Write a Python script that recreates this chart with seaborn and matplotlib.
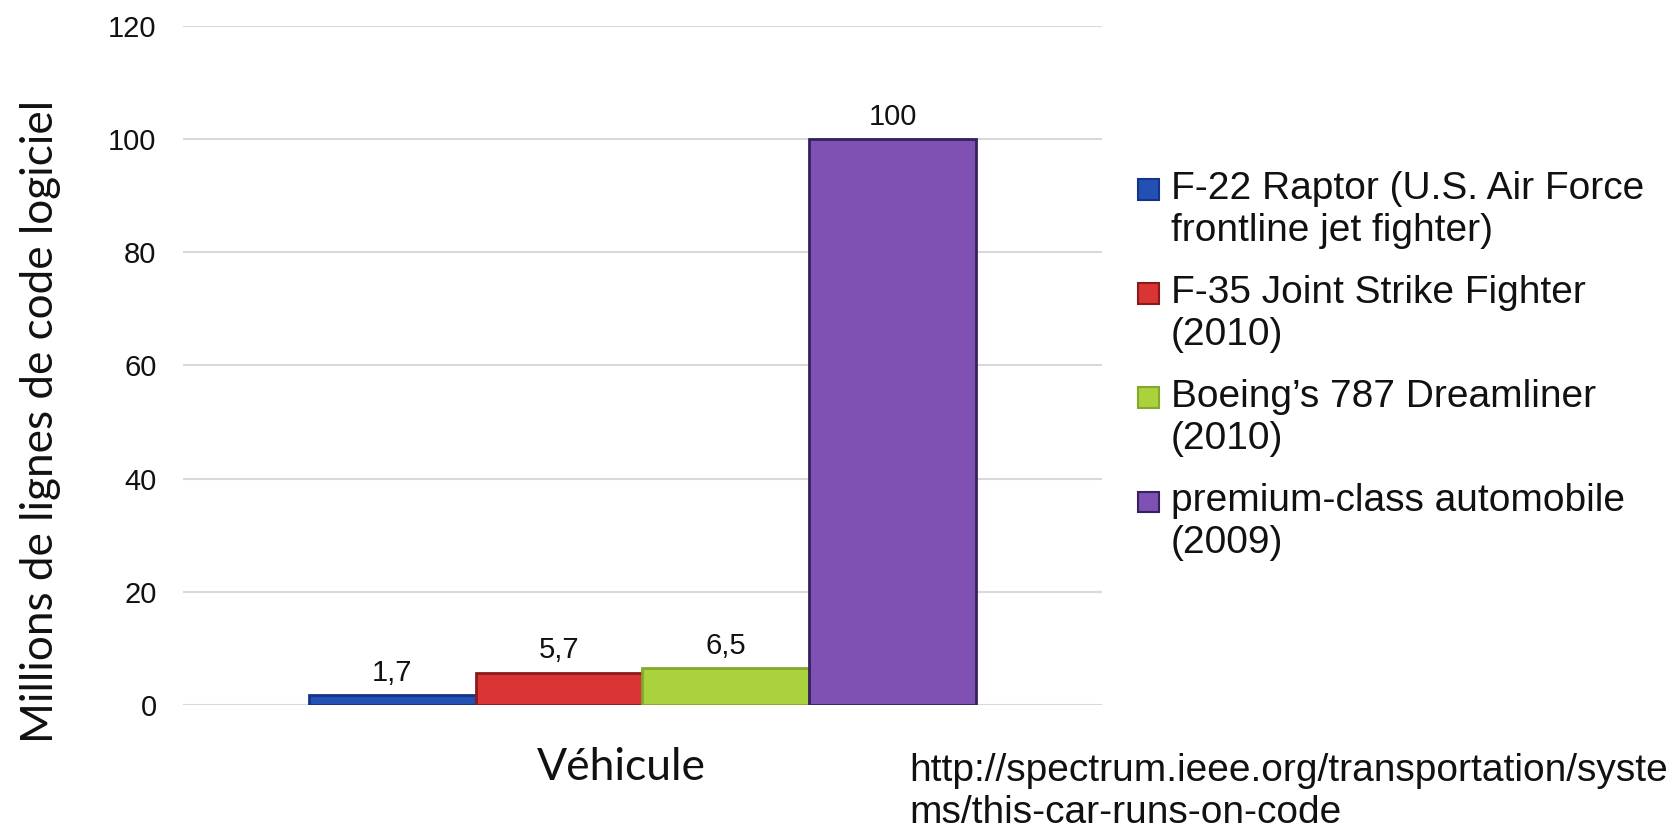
import matplotlib
matplotlib.use("Agg")
import matplotlib.pyplot as plt
import seaborn as sns
import pandas as pd
from matplotlib.patches import Rectangle
from matplotlib.legend_handler import HandlerPatch

# ---- data ----
category = ["Véhicule"]
series = [
    "F-22 Raptor (U.S. Air Force\nfrontline jet fighter)",
    "F-35 Joint Strike Fighter\n(2010)",
    "Boeing’s 787 Dreamliner\n(2010)",
    "premium-class automobile\n(2009)",
]
values = [1.7, 5.7, 6.5, 100]
value_labels = ["1,7", "5,7", "6,5", "100"]
yticks = [0, 20, 40, 60, 80, 100, 120]
fill_colors = ["#2351B3", "#DA3434", "#A9D23C", "#7E51B3"]
edge_colors = ["#15338A", "#8A1B1B", "#84A82C", "#36205F"]
y_label = "Millions de lignes de code logiciel"
x_label = "Véhicule"
source = "http://spectrum.ieee.org/transportation/syste\nms/this-car-runs-on-code"

df = pd.DataFrame({"cat": category * len(series), "series": series, "value": values})

sns.set_theme(style="white")
plt.rcParams["font.family"] = ["Liberation Sans", "DejaVu Sans"]

W, H = 1681, 831
fig = plt.figure(figsize=(W / 100, H / 100), dpi=100)
ax = fig.add_axes([183 / W, 1 - 705 / H, (1102 - 183) / W, (705 - 26) / H])

sns.barplot(data=df, x="cat", y="value", hue="series", hue_order=series,
            palette=fill_colors, saturation=1, width=0.726, ax=ax, legend=False)

for cont, ec, lab in zip(ax.containers, edge_colors, value_labels):
    for bar in cont:
        bar.set_edgecolor(ec)
        bar.set_linewidth(2.0)
    ax.bar_label(cont, labels=[lab], padding=6, fontsize=21, color="#111111")

ax.set_xlim(-0.5, 0.5)
ax.set_ylim(0, 120)
ax.set_yticks(yticks)
ax.set_yticklabels([str(v) for v in yticks], fontsize=21, color="#111111")
ax.tick_params(axis="y", length=0, pad=19)
ax.set_xticks([])
ax.grid(axis="y", color="#D9D9D9", linewidth=1.5)
ax.set_axisbelow(True)
for s in ax.spines.values():
    s.set_visible(False)

lab_font = ["Lato", "DejaVu Sans"]
ax.set_xlabel(x_label, fontsize=32, family=lab_font, color="#111111")
ax.xaxis.set_label_coords((621 - 183) / 919, (705 - 767) / 679)
ax.xaxis.label.set_va("center")
ax.set_ylabel(y_label, fontsize=31.7, family=lab_font, color="#111111")
ax.yaxis.set_label_coords((40 - 183) / 919, (705 - 421) / 679)
ax.yaxis.label.set_va("center")


def top_square(legend, orig_handle, xdescent, ydescent, width, height, fontsize):
    size = 15.0
    return Rectangle((-xdescent, -ydescent + 15.5), size, size)


handles = [Rectangle((0, 0), 1, 1, facecolor=fc, edgecolor=ec, linewidth=1.5)
           for fc, ec in zip(fill_colors, edge_colors)]
leg = ax.legend(handles, series, loc="upper left",
                bbox_to_anchor=(1138 / W, 1 - 171 / H), bbox_transform=fig.transFigure,
                frameon=False, fontsize=28, handlelength=0.55, handleheight=0.55,
                handletextpad=0.3, labelspacing=0.68, borderaxespad=0, borderpad=0,
                handler_map={Rectangle: HandlerPatch(patch_func=top_square)})
for t in leg.get_texts():
    t.set_color("#111111")
    t.set_linespacing(1.2)

fig.text(909 / W, 1 - 792 / H, source, fontsize=28, color="#111111",
         ha="left", va="center", linespacing=1.24)

fig.savefig("out.png", dpi=100)
